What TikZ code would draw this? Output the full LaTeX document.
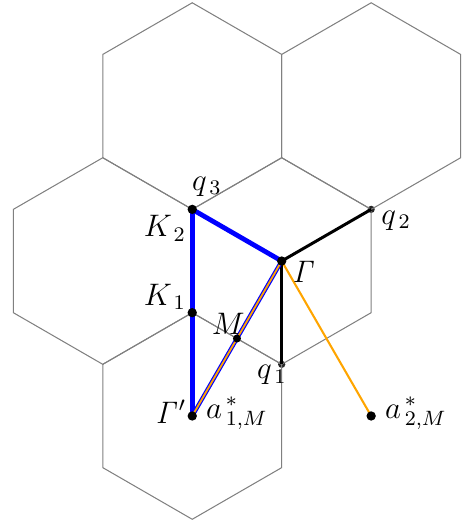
\documentclass[tikz,border=0pt]{standalone}
\usetikzlibrary{calc}
\definecolor{orng}{RGB}{255,165,0}
\begin{document}
\begin{tikzpicture}[x=1.4cm,y=1.4cm,
  hexline/.style={draw=black!50, line width=0.4pt},
  bluepath/.style={draw=blue, line width=1.85pt},
  bluethin/.style={draw=blue, line width=1.6pt},
  blackpath/.style={draw=black, line width=1.15pt},
  orangepath/.style={draw=orng, line width=0.7pt},
  dotnode/.style={circle, fill=black, inner sep=0pt, minimum size=3.6pt},
  qdot/.style={circle, fill=black!85, inner sep=0pt, minimum size=2.8pt},
  lab/.style={inner sep=0pt, font=\fontsize{12}{14}\selectfont}]
\useasboundingbox (-2.727,-2.536) rectangle (1.736,2.527);
\def\hr{0.8660254}
% key points
\coordinate (G) at (0,0);
\coordinate (Gp) at (-\hr,-1.5);
\coordinate (q3) at (-\hr,0.5);
\coordinate (K1) at (-\hr,-0.5);
\coordinate (q1) at (0,-1);
\coordinate (q2) at (\hr,0.5);
\coordinate (M) at (-\hr/2,-0.75);
\coordinate (a2) at (\hr,-1.5);
% dots under the grid
\node[qdot] (q1d) at (q1) {};
\node[qdot] (q2d) at (q2) {};
% hexagons
\foreach \cx/\cy [count=\i] in {0/0, -1/-1.5, -2/0, -1/1.5, 1/1.5} {
  \coordinate (c\i) at (\cx*\hr,\cy);
  \draw[hexline] ($(c\i)+(30:1)$) -- ($(c\i)+(90:1)$) -- ($(c\i)+(150:1)$)
    -- ($(c\i)+(210:1)$) -- ($(c\i)+(270:1)$) -- ($(c\i)+(330:1)$) -- cycle;
}
% paths
\draw[blackpath] (G) -- (q2);
\draw[blackpath] (G) -- (q1);
\draw[bluepath, line cap=round] (q3) -- (G);
\draw[bluepath] (q3) -- (Gp);
\draw[bluethin] (G) -- (Gp);
\draw[orangepath] (G) -- (Gp);
\draw[orangepath, line width=0.8pt] (G) -- (a2);
% dots
\node[dotnode] (Gd) at (G) {};
\node[dotnode] (Gpd) at (Gp) {};
\node[dotnode] (q3d) at (q3) {};
\node[dotnode] (K1d) at (K1) {};
\node[dotnode, minimum size=3.1pt] (Md) at (M) {};
\node[dotnode] (a2d) at (a2) {};
% labels
\node[lab] (lq3) at ($(q3)+(0.142,0.223)$) {$q_{\,3}$};
\node[lab] (lK2) at ($(q3)+(-0.265,-0.184)$) {$K_{\,2}$};
\node[lab] (lK1) at ($(K1)+(-0.265,0.152)$) {$K_{\,1}$};
\node[lab] (lM) at ($(M)+(-0.084,0.145)$) {$M$};
\node[lab] (lq1) at ($(q1)+(-0.094,-0.104)$) {$q_{\,1}$};
\node[lab] (lq2) at ($(q2)+(0.242,-0.106)$) {$q_{\,2}$};
\node[lab] (lG) at ($(G)+(0.215,-0.107)$) {$\mathit{\Gamma}$};
\node[lab] (lGp) at ($(Gp)+(-0.206,0.04)$) {$\mathit{\Gamma}'$};
\node[lab, anchor=base west] (la1) at ($(Gp)+(0.13,-0.02)$) {$a^{\,*}_{\,1,M}$};
\node[lab, anchor=base west] (la2) at ($(a2)+(0.13,-0.02)$) {$a^{\,*}_{\,2,M}$};
\end{tikzpicture}
\end{document}
